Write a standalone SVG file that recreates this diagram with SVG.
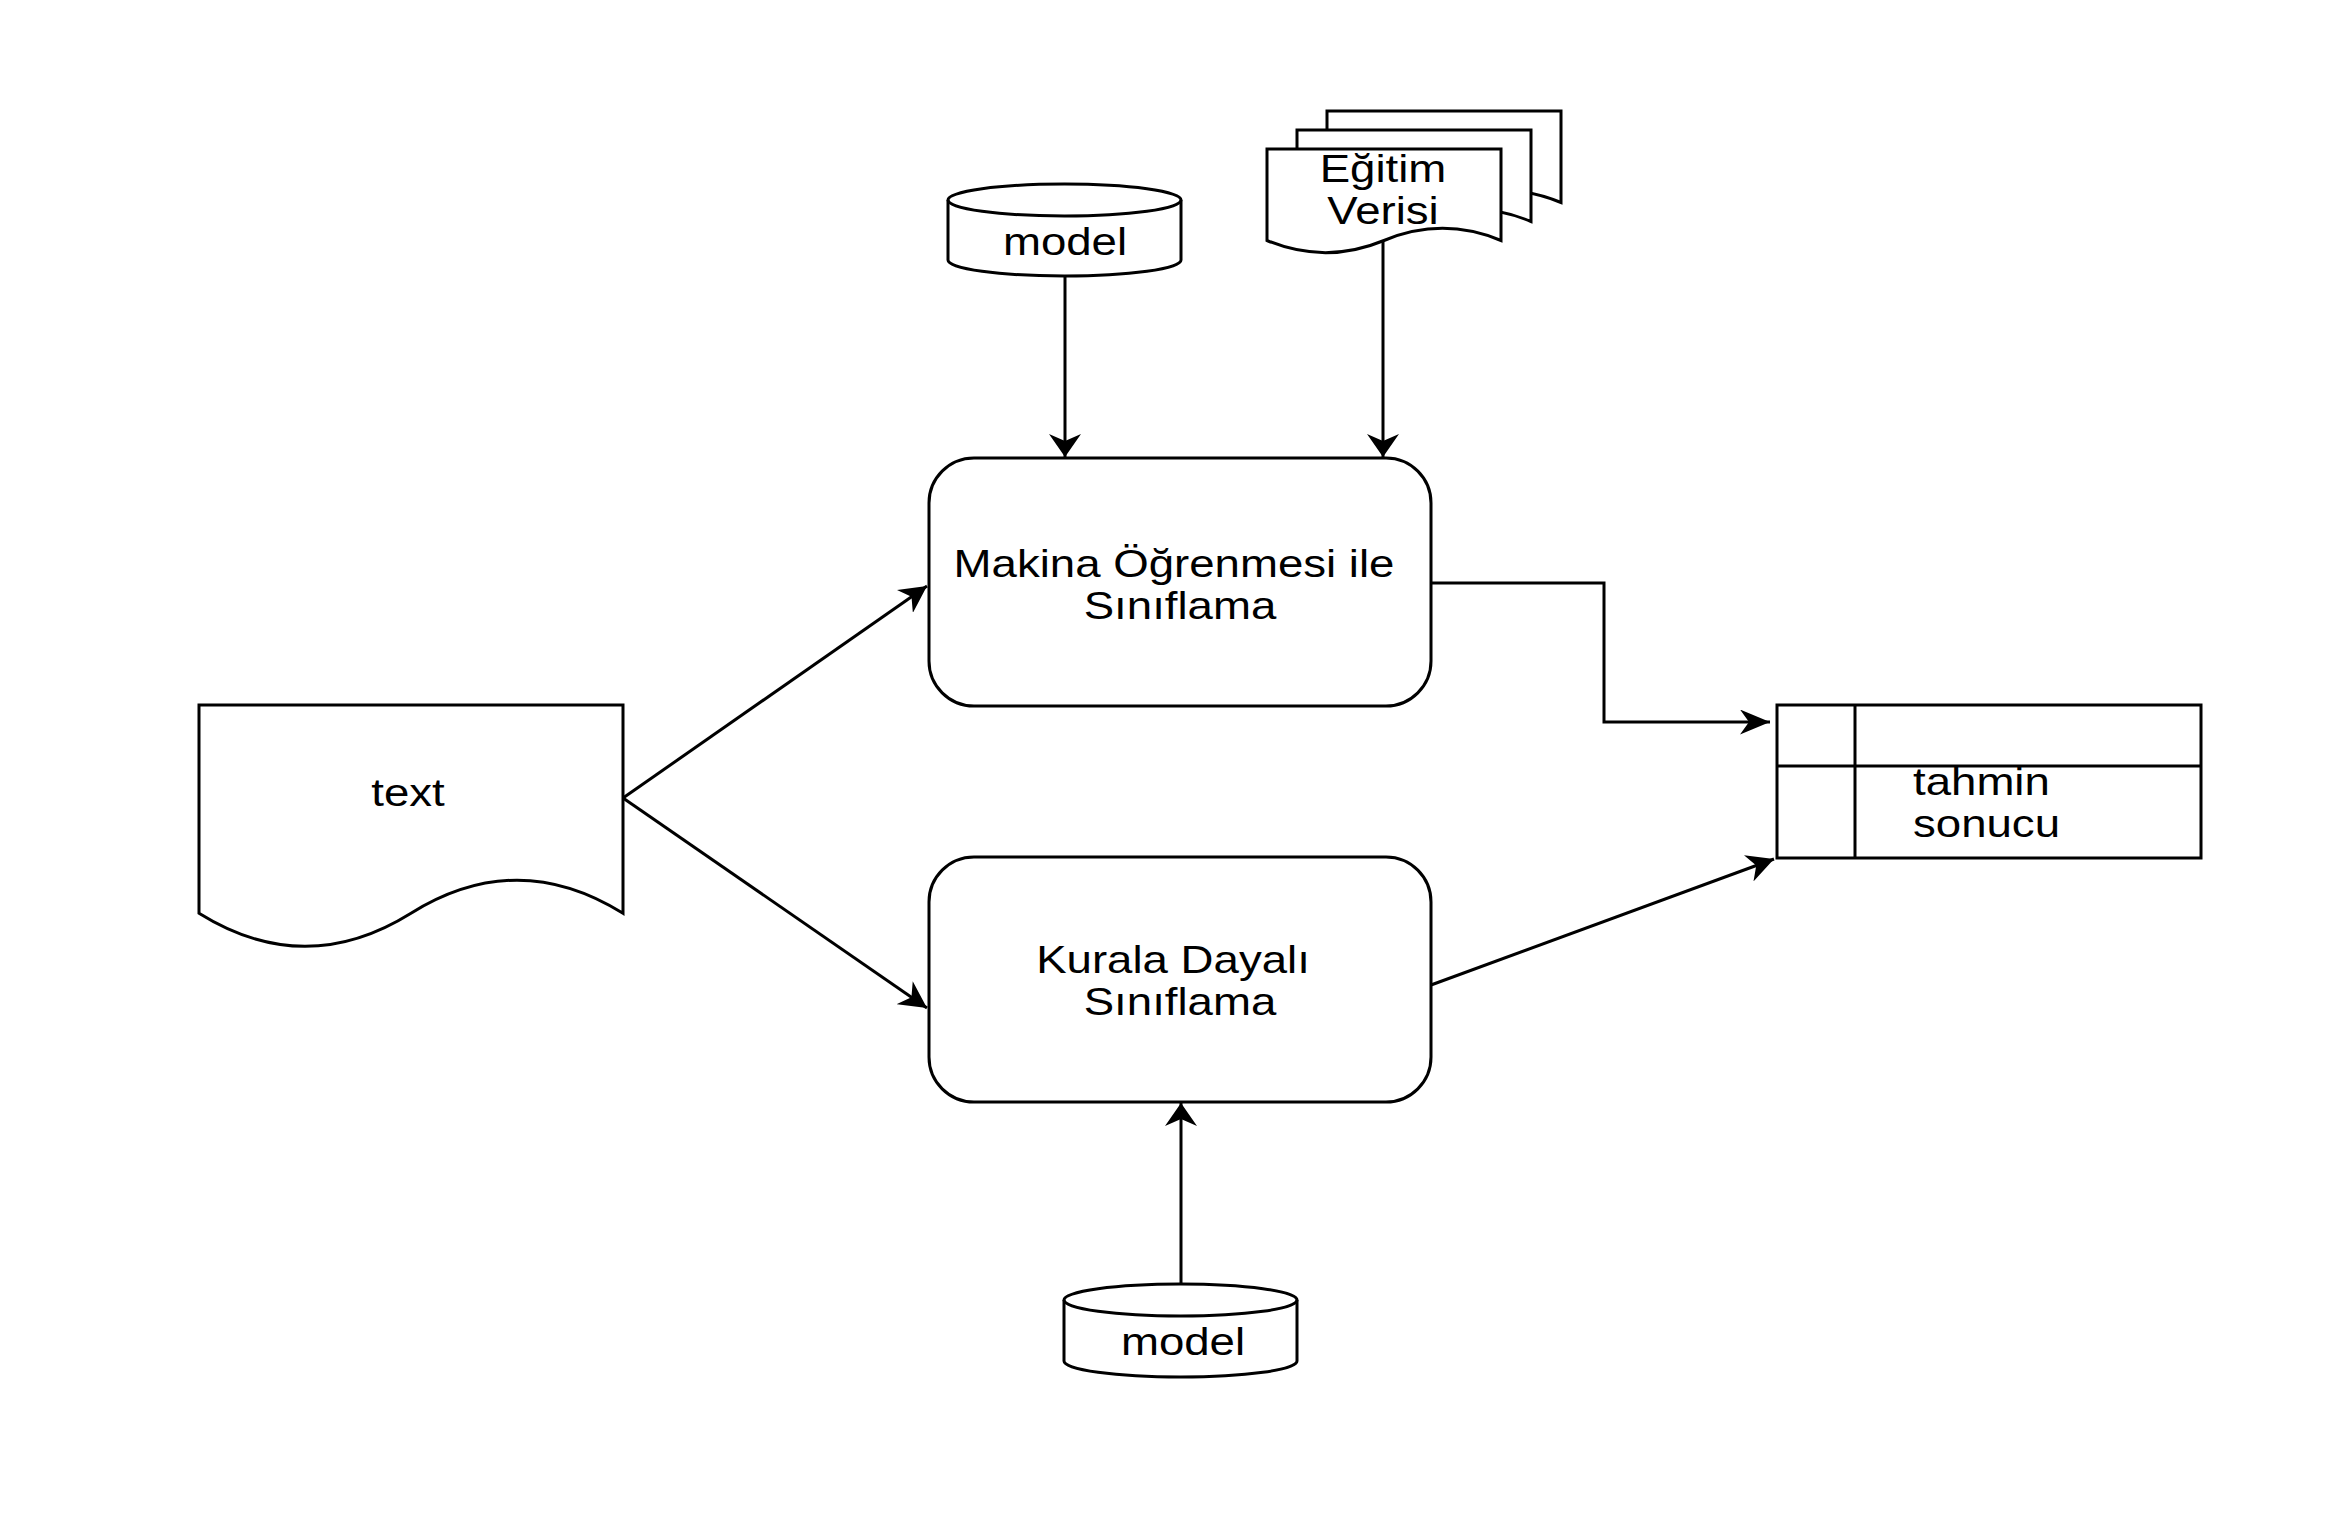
<svg xmlns="http://www.w3.org/2000/svg" width="2330" height="1516" viewBox="0 0 2330 1516">
<defs>
<style>
.shape{fill:#ffffff;stroke:#000000;stroke-width:3;}
.line{fill:none;stroke:#000000;stroke-width:3;}
.lbl{font-family:"Liberation Sans",Arial,sans-serif;font-size:38px;fill:#000000;}
.mid{text-anchor:middle;}
</style>
<marker id="arrV" viewBox="0 0 10 10" refX="10" refY="5" markerWidth="23" markerHeight="32" markerUnits="userSpaceOnUse" orient="auto" preserveAspectRatio="none">
<path d="M0,0 L10,5 L0,10 L3,5 Z" fill="#000000"/>
</marker>
<marker id="arrH" viewBox="0 0 10 10" refX="10" refY="5" markerWidth="30" markerHeight="25" markerUnits="userSpaceOnUse" orient="auto" preserveAspectRatio="none">
<path d="M0,0 L10,5 L0,10 L3,5 Z" fill="#000000"/>
</marker>
<marker id="arrD" viewBox="0 0 10 10" refX="10" refY="5" markerWidth="27" markerHeight="28" markerUnits="userSpaceOnUse" orient="auto" preserveAspectRatio="none">
<path d="M0,0 L10,5 L0,10 L3,5 Z" fill="#000000"/>
</marker>
</defs>
<rect width="2330" height="1516" fill="#ffffff"/>

<g id="connectors">
<path class="line" d="M1065,276 L1065,457" marker-end="url(#arrV)"/>
<path class="line" d="M1383,241 L1383,457" marker-end="url(#arrV)"/>
<path class="line" d="M623,798 L927,586" marker-end="url(#arrD)"/>
<path class="line" d="M623,798 L927,1008" marker-end="url(#arrD)"/>
<path class="line" d="M1431,583 L1604,583 L1604,722 L1770,722" marker-end="url(#arrH)"/>
<path class="line" d="M1431,985 L1774,859" marker-end="url(#arrD)"/>
<path class="line" d="M1181,1284 L1181,1103" marker-end="url(#arrV)"/>
</g>

<g id="node-model-top">
<path class="shape" d="M948,200 A116.5,16 0 0 1 1181,200 L1181,260 A116.5,16 0 0 1 948,260 Z"/>
<path class="shape" style="fill:none" d="M948,200 A116.5,16 0 0 0 1181,200"/>
<text class="lbl mid" transform="translate(1065,255) scale(1.2,1)">model</text>
</g>

<g id="node-egitim-verisi">
<path class="shape" d="M1327,111 L1561,111 L1561,202.5 Q1502.5,178.2 1444,202.5 Q1385.5,226.8 1327,202.5 Z"/>
<path class="shape" d="M1297,130 L1531,130 L1531,221.5 Q1472.5,197.2 1414,221.5 Q1355.5,245.8 1297,221.5 Z"/>
<path class="shape" d="M1267,149 L1501,149 L1501,240.5 Q1442.5,216.2 1384,240.5 Q1325.5,264.8 1267,240.5 Z"/>
<text class="lbl mid" transform="translate(1383,182) scale(1.2,1)">Eğitim</text>
<text class="lbl mid" transform="translate(1383,224) scale(1.2,1)">Verisi</text>
</g>

<g id="node-text">
<path class="shape" d="M199,705 L623,705 L623,913.25 Q517,847.1 411,913.25 Q305,979.4 199,913.25 Z"/>
<text class="lbl mid" transform="translate(408,806) scale(1.2,1)">text</text>
</g>

<g id="node-makina">
<rect class="shape" x="929" y="458" width="502" height="248" rx="45" ry="45"/>
<text class="lbl mid" transform="translate(1174,577) scale(1.2,1)">Makina Öğrenmesi ile</text>
<text class="lbl mid" transform="translate(1180,619) scale(1.2,1)">Sınıflama</text>
</g>

<g id="node-kurala">
<rect class="shape" x="929" y="857" width="502" height="245" rx="45" ry="45"/>
<text class="lbl mid" transform="translate(1173,973) scale(1.2,1)">Kurala Dayalı</text>
<text class="lbl mid" transform="translate(1180,1015) scale(1.2,1)">Sınıflama</text>
</g>

<g id="node-model-bottom">
<path class="shape" d="M1064,1300 A116.5,16 0 0 1 1297,1300 L1297,1361 A116.5,16 0 0 1 1064,1361 Z"/>
<path class="shape" style="fill:none" d="M1064,1300 A116.5,16 0 0 0 1297,1300"/>
<text class="lbl mid" transform="translate(1183,1355) scale(1.2,1)">model</text>
</g>

<g id="node-tahmin">
<rect class="shape" x="1777" y="705" width="424" height="153"/>
<line class="shape" x1="1777" y1="766" x2="2201" y2="766"/>
<line class="shape" x1="1855" y1="705" x2="1855" y2="858"/>
<text class="lbl" transform="translate(1913,795) scale(1.2,1)">tahmin</text>
<text class="lbl" transform="translate(1913,837) scale(1.2,1)">sonucu</text>
</g>
</svg>
